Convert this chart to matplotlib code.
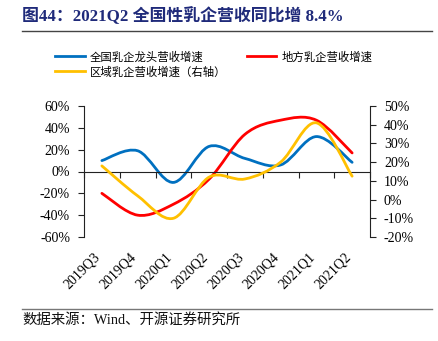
import numpy as np
import matplotlib
matplotlib.use('Agg')
from matplotlib import pyplot as plt
from matplotlib.path import Path
from matplotlib.patches import PathPatch
from matplotlib.lines import Line2D
from matplotlib.ticker import FuncFormatter

plt.rcParams['font.family'] = ['Liberation Serif', 'Noto Sans CJK SC']

# Data
quarters = ['2019Q3', '2019Q4', '2020Q1', '2020Q2', '2020Q3', '2020Q4', '2021Q1', '2021Q2']
national = [10, 19, -10, 23, 12, 6, 32, 8.4]      # 全国乳企龙头营收增速 (left)
local = [-20, -40, -30, -7, 34, 47, 47, 17]        # 地方乳企营收增速 (left)
regional = [18, 2, -10, 12, 11, 20, 41, 12.5]      # 区域乳企营收增速 (right)

BLUE = '#0070C0'
RED = '#FF0000'
YELLOW = '#FFC000'
TITLE_C = '#1F2A7A'


def smooth_path(ys):
    # Excel-like smoothed line: Catmull-Rom segments as cubic Bezier curves
    pts = np.column_stack([np.arange(len(ys)), np.asarray(ys, dtype=float)])
    ext = np.vstack([pts[0], pts, pts[-1]])
    verts = [pts[0]]
    codes = [Path.MOVETO]
    for i in range(len(pts) - 1):
        p0, p1, p2, p3 = ext[i], ext[i + 1], ext[i + 2], ext[i + 3]
        c1 = p1 + (p2 - p0) / 6.0
        c2 = p2 - (p3 - p1) / 6.0
        verts += [c1, c2, p2]
        codes += [Path.CURVE4] * 3
    return Path(verts, codes)


fig = plt.figure(figsize=(4.39, 3.41), dpi=100)
ax = fig.add_axes([84 / 439, 1 - 237 / 341, 286 / 439, 131 / 341])
ax2 = ax.twinx()

for ys, col, a in [(national, BLUE, ax), (local, RED, ax), (regional, YELLOW, ax2)]:
    a.add_patch(PathPatch(smooth_path(ys), fill=False, edgecolor=col, lw=2.0,
                          capstyle='round', joinstyle='round'))

ax.set_xlim(-0.5, len(quarters) - 0.5)
ax.set_ylim(-60, 60)
ax.set_yticks(np.arange(-60, 61, 20))
ax2.set_ylim(-20, 50)
ax2.set_yticks(np.arange(-20, 51, 10))
pct = FuncFormatter(lambda v, p: '{:.0f}%'.format(v))
ax.yaxis.set_major_formatter(pct)
ax2.yaxis.set_major_formatter(pct)

for a in (ax, ax2):
    a.spines['top'].set_visible(False)
    a.patch.set_visible(False)
ax.spines['right'].set_visible(False)
ax2.spines['left'].set_visible(False)
ax2.spines['bottom'].set_visible(False)
ax.spines['bottom'].set_position(('data', 0))
for sp in [ax.spines['left'], ax.spines['bottom'], ax2.spines['right']]:
    sp.set_color('#222222')
    sp.set_linewidth(0.8)

ax.set_xticks(np.arange(-0.5, len(quarters), 1))
ax.set_xticklabels([])
ax.tick_params(axis='x', direction='out', length=4, width=0.8, color='#222222')
ax.tick_params(axis='y', direction='out', length=4, width=0.8, color='#222222',
               labelsize=10, pad=6)
ax2.tick_params(axis='y', direction='out', length=4, width=0.8, color='#222222',
                labelsize=10, pad=6)

for i, q in enumerate(quarters):
    ax.text(i + 0.03, -0.1, q, transform=ax.get_xaxis_transform(), rotation=45,
            ha='right', va='top', fontsize=10)

# legend
handles = [Line2D([], [], color=BLUE, lw=2.0),
           Line2D([], [], color=YELLOW, lw=2.0),
           Line2D([], [], color=RED, lw=2.0)]
labels = ['全国乳企龙头营收增速', '区域乳企营收增速（右轴）', '地方乳企营收增速']
fig.legend(handles, labels, ncol=2, loc='upper left',
           bbox_to_anchor=(55 / 439, 1 - 51 / 341), frameon=False, fontsize=8.2,
           handlelength=2.6, handletextpad=0.45, columnspacing=1.8,
           labelspacing=0.32, borderpad=0, borderaxespad=0)

# title and source
fig.text(22 / 439, 1 - 16 / 341, '图44：2021Q2 全国性乳企营收同比增 8.4%',
         ha='left', va='center', fontsize=12.2, fontweight='bold', color=TITLE_C)
fig.add_artist(Line2D([22 / 439, 432 / 439], [1 - 31 / 341] * 2, color='#444444', lw=1.0))
fig.add_artist(Line2D([22 / 439, 432 / 439], [1 - 309 / 341] * 2, color='#777777', lw=1.0))
fig.text(22 / 439, 1 - 320 / 341, '数据来源：Wind、开源证券研究所',
         ha='left', va='center', fontsize=10.4, color='#111111')

plt.savefig('out.png', dpi=100)
plt.close()
